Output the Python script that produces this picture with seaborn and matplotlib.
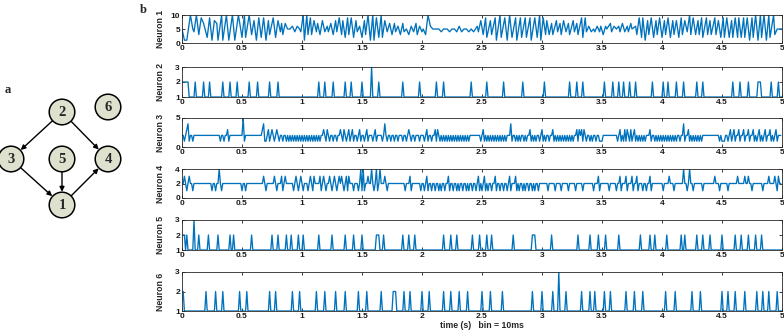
import numpy as np
import pandas as pd
import seaborn as sns
import matplotlib.pyplot as plt
from matplotlib.patches import Circle, FancyArrowPatch

W, H = 784, 331
bin_s = 0.01
line_blue = "#0072BD"

# neuron 1: turning points of the trace (time in s, count per bin)
n1_time = [0.00, 0.02, 0.04, 0.07, 0.09, 0.10, 0.12, 0.14, 0.16, 0.18, 0.21, 0.23, 0.25, 0.27, 0.29, 0.30,
           0.33, 0.34, 0.37, 0.39, 0.42, 0.44, 0.47, 0.50, 0.52, 0.53, 0.56, 0.58, 0.60, 0.62, 0.64, 0.66,
           0.68, 0.70, 0.72, 0.73, 0.76, 0.78, 0.80, 0.82, 0.83, 0.84, 0.86, 0.88, 0.90, 0.92, 0.94, 0.96,
           0.98, 0.99, 1.01, 1.02, 1.04, 1.05, 1.07, 1.08, 1.10, 1.12, 1.13, 1.15, 1.17, 1.19, 1.21, 1.22,
           1.24, 1.26, 1.28, 1.29, 1.31, 1.33, 1.34, 1.36, 1.38, 1.39, 1.41, 1.43, 1.45, 1.46, 1.48, 1.50,
           1.52, 1.53, 1.55, 1.57, 1.59, 1.60, 1.62, 1.64, 1.66, 1.67, 1.69, 1.71, 1.73, 1.75, 1.77, 1.78,
           1.80, 1.82, 1.84, 1.85, 1.87, 1.89, 1.91, 1.93, 1.95, 1.96, 1.98, 2.00, 2.01, 2.03, 2.05, 2.07,
           2.09, 2.11, 2.14, 2.16, 2.18, 2.21, 2.23, 2.25, 2.27, 2.29, 2.31, 2.33, 2.35, 2.37, 2.39, 2.41,
           2.43, 2.46, 2.47, 2.49, 2.51, 2.53, 2.54, 2.57, 2.58, 2.61, 2.62, 2.65, 2.66, 2.69, 2.71, 2.73,
           2.75, 2.78, 2.79, 2.82, 2.83, 2.86, 2.87, 2.90, 2.91, 2.94, 2.96, 2.98, 2.99, 3.01, 3.03, 3.04,
           3.06, 3.08, 3.09, 3.12, 3.13, 3.15, 3.16, 3.18, 3.20, 3.22, 3.23, 3.26, 3.27, 3.29, 3.30, 3.33,
           3.34, 3.36, 3.37, 3.39, 3.41, 3.43, 3.44, 3.46, 3.48, 3.49, 3.51, 3.53, 3.54, 3.57, 3.58, 3.60,
           3.62, 3.64, 3.65, 3.67, 3.69, 3.71, 3.72, 3.74, 3.75, 3.78, 3.79, 3.81, 3.83, 3.84, 3.86, 3.88,
           3.89, 3.91, 3.93, 3.95, 3.96, 3.98, 4.00, 4.02, 4.03, 4.05, 4.07, 4.09, 4.10, 4.12, 4.14, 4.16,
           4.17, 4.19, 4.21, 4.23, 4.24, 4.26, 4.28, 4.30, 4.31, 4.33, 4.34, 4.37, 4.38, 4.40, 4.41, 4.44,
           4.45, 4.47, 4.49, 4.51, 4.52, 4.54, 4.56, 4.58, 4.59, 4.61, 4.63, 4.64, 4.66, 4.68, 4.69, 4.71,
           4.73, 4.75, 4.76, 4.78, 4.80, 4.82, 4.83, 4.85, 4.87, 4.89, 4.90, 4.93, 4.94, 4.96, 5.00]
n1_count = [5, 1, 1, 10, 5, 4, 10, 3, 9, 7, 2, 9, 1, 8, 7, 1,
            10, 1, 10, 1, 10, 1, 10, 2, 10, 2, 10, 3, 8, 1, 9, 2,
            9, 1, 8, 3, 9, 2, 8, 4, 7, 3, 7, 5, 5, 6, 4, 6,
            5, 4, 10, 1, 10, 3, 9, 3, 8, 4, 7, 3, 8, 4, 6, 4,
            7, 3, 8, 4, 9, 3, 8, 2, 9, 3, 9, 2, 8, 4, 6, 2,
            8, 3, 10, 1, 10, 1, 9, 2, 10, 2, 8, 4, 7, 3, 7, 4,
            6, 3, 7, 4, 5, 3, 6, 4, 7, 3, 6, 4, 5, 3, 10, 6,
            5, 5, 5, 4, 5, 5, 4, 5, 5, 4, 6, 4, 5, 5, 4, 5,
            4, 6, 4, 8, 3, 9, 2, 8, 3, 9, 1, 10, 2, 9, 1, 10,
            2, 9, 1, 9, 2, 9, 2, 9, 1, 9, 2, 10, 1, 9, 3, 8,
            3, 7, 3, 8, 4, 7, 3, 8, 4, 7, 3, 8, 4, 7, 3, 9,
            2, 9, 4, 6, 4, 5, 4, 6, 4, 6, 3, 6, 5, 7, 4, 6,
            5, 6, 4, 7, 4, 6, 4, 7, 5, 6, 3, 9, 2, 9, 1, 8,
            3, 9, 2, 8, 3, 9, 2, 8, 3, 9, 2, 8, 3, 8, 2, 9,
            3, 8, 4, 10, 3, 9, 3, 8, 3, 9, 2, 9, 3, 8, 3, 9,
            3, 8, 2, 9, 2, 9, 2, 8, 2, 9, 2, 9, 2, 9, 2, 9,
            1, 9, 2, 10, 1, 10, 2, 10, 1, 10, 2, 10, 3, 5, 5]

# neurons 3 and 4: one digit per 10 ms bin, 0 - 5 s
n3_bins = ("2212341221" "2222222222" "2222222222" "2212212231" "2222222222"
           "2512222222" "2222222341" "1231232123" "2122122121" "2121212121"
           "2121212121" "2121212232" "1321221221" "2232132123" "1231221231"
           "2212312221" "2312222124" "2122122122" "1222122123" "2122122212"
           "2212312212" "2313212121" "2121212121" "2121212121" "2222222221"
           "2312121212" "1212121212" "1222412212" "1212212122" "3121212212"
           "3121221223" "1212121212" "1212121223" "1323132122" "1212212211"
           "1222222222" "2221231213" "1321312312" "1212121222" "3122121212"
           "1212121212" "1212212241" "2231212121" "2121222222" "2222222212"
           "1112212312" "3122312231" "2231223121" "2312123122" "3121231222")
n4_bins = ("2232123221" "2222222222" "2222212212" "2421222222" "2222222222"
           "1221222222" "2222222232" "1222222321" "2223123222" "2221232123"
           "2122212321" "3222231232" "1223212321" "2323212313" "2221222124"
           "1412232242" "1241242223" "2122222222" "2222221222" "3122222221"
           "2212312212" "2122121221" "2231221221" "2122122121" "2212212312"
           "1231212212" "2312212212" "2123122231" "2122121221" "2212122122"
           "2222212222" "2122221222" "2212222212" "2222122222" "2221222312"
           "2222221222" "2212231222" "3122231223" "1222122122" "3122222222"
           "2122223222" "1222222242" "2124221222" "2222122222" "2222322212"
           "2222212222" "2223222223" "2232212222" "2222122223" "2222321322")

# neurons 2, 5, 6: bins above the baseline count of 1 (count 2, and count 3)
n2_time = [0.00, 0.01, 0.02, 0.03, 0.04, 0.05, 0.11, 0.18, 0.23, 0.34, 0.40, 0.46, 0.56, 0.63, 0.73,
           0.80, 1.14, 1.19, 1.26, 1.36, 1.41, 1.50, 1.64, 1.84, 1.98, 2.12, 2.18, 2.41, 2.54, 2.68,
           2.84, 3.02, 3.23, 3.29, 3.34, 3.52, 3.59, 3.64, 3.68, 3.73, 3.78, 3.92, 4.01, 4.05, 4.12,
           4.18, 4.29, 4.34, 4.59, 4.65, 4.72, 4.80, 4.81, 4.82, 4.91, 4.97]
n2_time3 = [1.58]
n5_time = [0.00, 0.01, 0.02, 0.04, 0.14, 0.22, 0.30, 0.40, 0.43, 0.58, 0.75, 0.80, 0.87, 0.91, 0.97,
           1.01, 1.14, 1.25, 1.36, 1.43, 1.50, 1.62, 1.63, 1.64, 1.68, 1.84, 1.89, 1.94, 2.18, 2.24,
           2.29, 2.42, 2.48, 2.54, 2.58, 2.76, 2.92, 2.93, 2.94, 3.08, 3.30, 3.40, 3.47, 3.53, 3.64,
           3.82, 3.90, 3.94, 4.04, 4.16, 4.19, 4.29, 4.34, 4.40, 4.50, 4.61, 4.66, 4.72, 4.78, 4.83]
n5_time3 = [0.10]
n6_time = [0.00, 0.01, 0.20, 0.28, 0.34, 0.48, 0.54, 0.73, 0.78, 0.92, 0.98, 1.12, 1.19, 1.28, 1.36,
           1.47, 1.54, 1.66, 1.76, 1.77, 1.78, 1.85, 1.90, 2.00, 2.06, 2.18, 2.24, 2.31, 2.38, 2.50,
           2.57, 2.67, 2.92, 3.00, 3.09, 3.20, 3.33, 3.40, 3.44, 3.52, 3.57, 3.70, 3.77, 3.84, 4.03,
           4.11, 4.25, 4.32, 4.50, 4.55, 4.61, 4.69, 4.79, 4.84, 4.89, 4.96]
n6_time3 = [3.14]

neuron_ylim = [(0, 10), (1, 3), (0, 5), (0, 4), (1, 3), (1, 3)]
neuron_yticks = [[0, 5, 10], [1, 2, 3], [0, 5], [0, 2, 4], [1, 2, 3], [1, 2, 3]]
x_ticks = [0, 0.5, 1, 1.5, 2, 2.5, 3, 3.5, 4, 4.5, 5]

# network of panel a (pixel positions)
node_name = ["1", "2", "3", "4", "5", "6"]
node_x = [62, 62, 11, 108, 62, 108]
node_y = [205, 112, 159, 159, 159, 107]
edges = [("2", "3"), ("2", "4"), ("3", "1"), ("5", "1"), ("1", "4")]


def spike_train(times2, times3, n=501):
    counts = np.ones(n)
    counts[np.rint(np.array(times2) / bin_s).astype(int)] = 2
    counts[np.rint(np.array(times3) / bin_s).astype(int)] = 3
    return np.arange(n) * bin_s, counts


def digit_train(s):
    counts = np.array([int(ch) for ch in s], dtype=float)
    return np.arange(len(counts)) * bin_s, counts


traces = [
    (np.array(n1_time), np.array(n1_count, dtype=float)),
    spike_train(n2_time, n2_time3),
    digit_train(n3_bins),
    digit_train(n4_bins),
    spike_train(n5_time, n5_time3),
    spike_train(n6_time, n6_time3),
]

sns.set_style("ticks")
plt.rcParams['font.family'] = ['Liberation Sans', 'DejaVu Sans']
plt.rcParams['font.weight'] = 'bold'

fig = plt.figure(figsize=(W / 100, H / 100), dpi=100)

# rows of panel b: (top, bottom) in pixels
ax_rows = [(15, 43), (67, 97), (118, 147), (169, 198), (220, 250), (272, 311)]
ax_left, ax_right = 182, 782

axes = []
for i, ((top, bot), (tx, cy)) in enumerate(zip(ax_rows, traces)):
    ax = fig.add_axes([ax_left / W, 1 - bot / H, (ax_right - ax_left) / W, (bot - top) / H])
    df = pd.DataFrame({"time": tx, "count": cy})
    sns.lineplot(data=df, x="time", y="count", ax=ax, color=line_blue, linewidth=0.95,
                 estimator=None, sort=False)
    ax.set_xlim(0, 5)
    ax.set_ylim(*neuron_ylim[i])
    ax.set_xticks(x_ticks)
    ax.set_xticklabels([f"{v:g}" for v in x_ticks])
    ax.set_yticks(neuron_yticks[i])
    ax.tick_params(direction="in", length=2.5, width=0.6, top=True, right=True,
                   labelsize=6, pad=1.5, colors="#1a1a1a")
    for sp in ax.spines.values():
        sp.set_linewidth(0.6)
        sp.set_color("#262626")
    ax.set_xlabel("")
    ax.set_ylabel(f"Neuron {i + 1}", fontsize=6.3, fontweight="bold")
    ax.yaxis.set_label_coords(-0.028, 0.5)
    axes.append(ax)

axes[-1].set_xlabel("time (s)   bin = 10ms", fontsize=6.3, fontweight="bold")
axes[-1].xaxis.set_label_coords(0.5, -0.26)

# panel a: the network
net = fig.add_axes([0, 0, 1, 1], zorder=-1)
net.set_xlim(0, W)
net.set_ylim(H, 0)
net.axis("off")
pos = {n: (x, y) for n, x, y in zip(node_name, node_x, node_y)}
for a, b in edges:
    arr = FancyArrowPatch(pos[a], pos[b], arrowstyle="-|>", mutation_scale=7,
                          shrinkA=9.5, shrinkB=9.5, color="black", linewidth=1.0)
    net.add_patch(arr)
for n in node_name:
    net.add_patch(Circle(pos[n], 12.8, facecolor="#dfe1cf", edgecolor="black", linewidth=1.1))
    net.text(pos[n][0], pos[n][1] + 0.5, n, ha="center", va="center", fontsize=10.5,
             fontweight="bold", family=["Liberation Serif", "DejaVu Serif"])

fig.text(8 / W, 1 - 90 / H, "a", ha="center", va="center", fontsize=9, fontweight="bold",
         family=["Liberation Serif", "DejaVu Serif"])
fig.text(143 / W, 1 - 10 / H, "b", ha="center", va="center", fontsize=9, fontweight="bold",
         family=["Liberation Serif", "DejaVu Serif"])

fig.savefig("out.png", dpi=100)
